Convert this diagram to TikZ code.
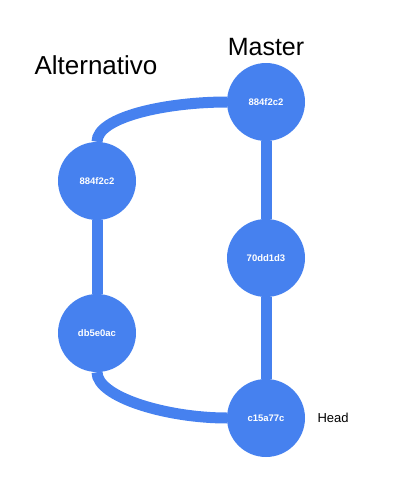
\documentclass[tikz,border=0pt]{standalone}
\usepackage{fontspec}
\setmainfont{Liberation Sans}
\usetikzlibrary{backgrounds}

\definecolor{gitblue}{HTML}{4681EF}
\newcommand\commit[1]{\bfseries\fontsize{9.5}{11}\selectfont #1}

\begin{document}
\begin{tikzpicture}[x=1pt,y=-1pt,
  cnode/.style={circle,fill=gitblue,text=white,minimum size=78pt,inner sep=0pt},
  branch/.style={draw=gitblue,line width=11pt}]
\useasboundingbox (0,0) rectangle (414,488);

\node[cnode] (master1) at (266,102) {\commit{884f2c2}};
\node[cnode] (master2) at (266,258) {\commit{70dd1d3}};
\node[cnode] (master3) at (266,418) {\commit{c15a77c}};
\node[cnode] (alt1) at (97,181) {\commit{884f2c2}};
\node[cnode] (alt2) at (97,333) {\commit{db5e0ac}};

\node[anchor=base,font=\fontsize{25}{28}\selectfont] (lblmaster) at (266,55) {Master};
\node[anchor=base,font=\fontsize{26}{29}\selectfont] (lblalt) at (96,74) {Alternativo};
\node[anchor=west,font=\fontsize{13}{15}\selectfont] (lblhead) at (314,418) {Head};

\begin{scope}[on background layer]
\draw[branch] (master1) -- (master2) -- (master3);
\draw[branch] (alt1) -- (alt2);
\draw[branch] (alt1.north) .. controls +(0,-25) and +(-60,0) .. (master1.west);
\draw[branch] (alt2.south) .. controls +(0,25) and +(-60,0) .. (master3.west);
\end{scope}
\end{tikzpicture}
\end{document}
